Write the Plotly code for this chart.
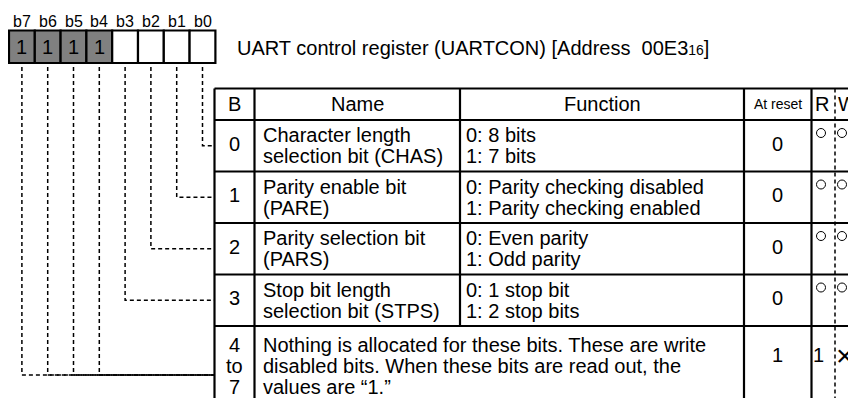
import plotly.graph_objects as go

# ---------------- content ----------------
bit_labels = ["b7", "b6", "b5", "b4", "b3", "b2", "b1", "b0"]
bit_values = ["1", "1", "1", "1", "", "", "", ""]
bit_rows = [4, 4, 4, 4, 3, 2, 1, 0]          # table row each bit points to
register_title = ("UART control register (UARTCON) [Address\u00a0\u00a000E3"
                  "<span style='font-size:14px'>16</span>]")
headers = ["B", "Name", "Function", "At reset", "R", "W"]
row_bits = [["0"], ["1"], ["2"], ["3"], ["4", "to", "7"]]
row_names = [
    ["Character length", "selection bit (CHAS)"],
    ["Parity enable bit", "(PARE)"],
    ["Parity selection bit", "(PARS)"],
    ["Stop bit length", "selection bit (STPS)"],
    ["Nothing is allocated for these bits. These are write",
     "disabled bits. When these bits are read out, the",
     "values are \u201c1.\u201d"],
]
row_functions = [
    ["0: 8 bits", "1: 7 bits"],
    ["0: Parity checking disabled", "1: Parity checking enabled"],
    ["0: Even parity", "1: Odd parity"],
    ["0: 1 stop bit", "1: 2 stop bits"],
    [],
]
row_reset = ["0", "0", "0", "0", "1"]
row_r = ["\u25cb", "\u25cb", "\u25cb", "\u25cb", "1"]
row_w = ["\u25cb", "\u25cb", "\u25cb", "\u25cb", "\u00d7"]

# ---------------- geometry / style ----------------
W, H = 856, 398
OFF = 8            # page body margin of the html page
FONT = "Liberation Sans, Arial, Helvetica, sans-serif"
BOX_X0, BOX_W, BOX_Y0, BOX_Y1 = 9, 25.8, 30.5, 63
LABEL_Y = 21
TITLE_X, TITLE_Y = 235, 48
COL = [214.5, 254.5, 460, 744, 811.5, 835, 874]
TOP, HEAD_B = 88.5, 120
ROW_B = [171.5, 223, 274.5, 326, 424]
LINE = 21
PAD = 5
GRAY = "#808080"
DASH = "4px,3px"
LW = 2.2

fig = go.Figure()
shapes, ann = [], []


def text(x, y, s, size=20, xanchor="center"):
    ann.append(dict(x=x, y=y, xref="x", yref="y", text=s, showarrow=False,
                    xanchor=xanchor, yanchor="middle",
                    font=dict(family=FONT, size=size, color="black")))


def line(x0, y0, x1, y1, width=LW, dash="solid"):
    shapes.append(dict(type="line", xref="x", yref="y", x0=x0, y0=y0,
                       x1=x1, y1=y1, line=dict(color="black", width=width, dash=dash)))


# bit boxes
for i, (lab, val) in enumerate(zip(bit_labels, bit_values)):
    x0 = BOX_X0 + i * BOX_W
    shapes.append(dict(type="rect", xref="x", yref="y", x0=x0, x1=x0 + BOX_W,
                       y0=BOX_Y0, y1=BOX_Y1, fillcolor=GRAY if val else "white",
                       line=dict(color="black", width=LW), layer="below"))
    text(x0 + BOX_W / 2, LABEL_Y, lab, size=16)
    if val:
        text(x0 + BOX_W / 2, (BOX_Y0 + BOX_Y1) / 2, val, size=20)

text(TITLE_X, TITLE_Y, register_title, size=20, xanchor="left")

# table frame
row_tops = [HEAD_B] + ROW_B[:-1]
row_mid = [(t + b) / 2 for t, b in zip(row_tops, ROW_B)]
line(COL[0], TOP, COL[-1], TOP)
line(COL[0], TOP, COL[0], ROW_B[-1])
line(COL[-1], TOP, COL[-1], ROW_B[-1])
for yb in [HEAD_B] + ROW_B:
    line(COL[0], yb, COL[-1], yb)
line(COL[1], TOP, COL[1], ROW_B[-1])
line(COL[2], TOP, COL[2], ROW_B[3])
line(COL[3], TOP, COL[3], ROW_B[-1])
line(COL[4], TOP, COL[4], ROW_B[-1])
line(COL[5], TOP, COL[5], ROW_B[-1], width=1.5, dash=DASH)

# connectors
for i, r in enumerate(bit_rows):
    xc = BOX_X0 + (i + 0.5) * BOX_W
    yc = row_mid[r]
    shapes.append(dict(type="path", xref="x", yref="y",
                       path=f"M {xc},{BOX_Y1 + 4} L {xc},{yc} L {COL[0]},{yc}",
                       line=dict(color="black", width=1.5, dash=DASH)))

# header texts
head_y = (TOP + HEAD_B) / 2
head_x = [(COL[0] + COL[1]) / 2, (COL[1] + COL[2]) / 2, (COL[2] + COL[3]) / 2,
          (COL[3] + COL[4]) / 2, 822, 847]
for hx, h in zip(head_x, headers):
    text(hx, head_y, h, size=14 if h == "At reset" else 20)

# rows
circ_x, circ_y = [], []
for r in range(len(row_names)):
    top = row_tops[r]
    n = max(len(row_names[r]), len(row_bits[r]))
    if n <= 2:
        first = row_mid[r] - LINE / 2 * (n - 1)
    else:
        first = top + 19
    for k, s in enumerate(row_bits[r]):
        yy = first + k * LINE if len(row_bits[r]) > 1 else row_mid[r] - 2
        text((COL[0] + COL[1]) / 2, yy, s)
    for k, s in enumerate(row_names[r]):
        text(COL[1] + PAD + 1, first + k * LINE, s, xanchor="left")
    for k, s in enumerate(row_functions[r]):
        text(COL[2] + PAD - 1, first + k * LINE, s, xanchor="left")
    ry = row_mid[r] - 2 if r < 4 else top + 29
    text((COL[3] + COL[4]) / 2, ry, row_reset[r])
    for val, cx_c, cx_t in ((row_r[r], 821, 818), (row_w[r], 842, 845)):
        if val == "\u25cb":
            circ_x.append(cx_c)
            circ_y.append(top + 13)
        else:
            text(cx_t, ry, val, size=30 if val == "\u00d7" else 20)

fig.add_trace(go.Scatter(x=circ_x, y=circ_y, mode="markers", hoverinfo="skip",
                         marker=dict(symbol="circle-open", size=9, color="black",
                                     line=dict(width=1))))

# the figure sits inside the page's 8px body margin, so the axes are offset to
# keep page pixel coordinates equal to data coordinates
fig.update_layout(width=W - OFF, height=H - OFF, margin=dict(l=0, r=0, t=0, b=0),
                  paper_bgcolor="white", plot_bgcolor="white", showlegend=False,
                  xaxis=dict(range=[OFF, W], visible=False, fixedrange=True),
                  yaxis=dict(range=[H, OFF], visible=False, fixedrange=True),
                  shapes=shapes, annotations=ann)
fig.write_html("out.html")
